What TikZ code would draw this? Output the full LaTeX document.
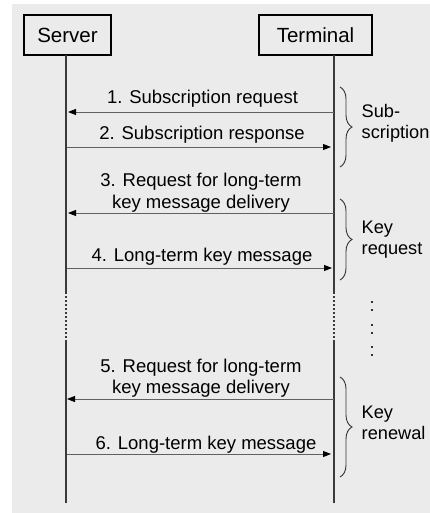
\documentclass[tikz,border=0pt]{standalone}
\usepackage{fontspec}
\setmainfont{Liberation Sans}
\usetikzlibrary{arrows.meta,decorations.pathreplacing}
\definecolor{panel}{HTML}{EBEBEB}
\definecolor{lifec}{HTML}{3A3A3A}
\definecolor{msgc}{HTML}{606060}
\begin{document}
\begin{tikzpicture}[x=1pt,y=-1pt,
  actor/.style={draw=black,line width=1.6pt,fill=panel,inner sep=0pt,font=\fontsize{20.5}{24}\selectfont},
  life/.style={draw=lifec,line width=1.1pt},
  lifedot/.style={draw=lifec,line width=1.1pt,dash pattern=on 2pt off 2pt},
  msg/.style={draw=msgc,line width=0.9pt,-{Triangle[length=8pt,width=6pt,fill=black,color=black]}},
  lbl/.style={font=\fontsize{18.5}{21.5}\selectfont,anchor=base,inner sep=0pt,align=center},
  blbl/.style={font=\fontsize{18.2}{21.5}\selectfont,anchor=base west,inner sep=0pt,align=left},
  brc/.style={draw=black!80,line width=0.9pt,decorate,decoration={brace,amplitude=12pt}},
  vdot/.style={fill=black!80,draw=none}]
\useasboundingbox (0,0) rectangle (430,513);
\fill[panel] (12,4) rectangle (430,513);

% actors
\node[actor,minimum width=87pt,minimum height=40pt] (srv) at (67.5,35) {Server};
\node[actor,minimum width=113pt,minimum height=40pt] (trm) at (315.5,35) {Terminal};

% lifeline coordinates
\coordinate (s0) at (66,55);
\coordinate (s1) at (66,292);
\coordinate (s2) at (66,342);
\coordinate (s3) at (66,503);
\coordinate (t0) at (334,55);
\coordinate (t1) at (334,292);
\coordinate (t2) at (334,342);
\coordinate (t3) at (334,503);
\draw[life] (s0) -- (s1);
\draw[lifedot] (s1) -- (s2);
\draw[life] (s2) -- (s3);
\draw[life] (t0) -- (t1);
\draw[lifedot] (t1) -- (t2);
\draw[life] (t2) -- (t3);

% message end points
\coordinate (m1a) at (334,112); \coordinate (m1b) at (68,112);
\coordinate (m2a) at (67,147);  \coordinate (m2b) at (331,147);
\coordinate (m3a) at (334,213); \coordinate (m3b) at (68,213);
\coordinate (m4a) at (67,268);  \coordinate (m4b) at (332,268);
\coordinate (m5a) at (334,399); \coordinate (m5b) at (67,399);
\coordinate (m6a) at (67,454);  \coordinate (m6b) at (331,454);
\draw[msg] (m1a) -- (m1b);
\draw[msg] (m2a) -- (m2b);
\draw[msg] (m3a) -- (m3b);
\draw[msg] (m4a) -- (m4b);
\draw[msg] (m5a) -- (m5b);
\draw[msg] (m6a) -- (m6b);

% message labels (base = baseline of last line)
\node[lbl] (l1) at (202.5,103.5) {1. Subscription request};
\node[lbl] (l2) at (202,140) {2. Subscription response};
\node[lbl] (l3) at (201,208) {3. Request for long-term\\key message delivery};
\node[lbl] (l4) at (202,261.5) {4. Long-term key message};
\node[lbl] (l5) at (201,393.5) {5. Request for long-term\\key message delivery};
\node[lbl] (l6) at (206,449) {6. Long-term key message};

% braces
\coordinate (b1a) at (340,87);  \coordinate (b1b) at (340,167);
\coordinate (b2a) at (340,199); \coordinate (b2b) at (340,280);
\coordinate (b3a) at (340,377); \coordinate (b3b) at (340,477);
\draw[brc] (b1a) -- (b1b);
\draw[brc] (b2a) -- (b2b);
\draw[brc] (b3a) -- (b3b);

\node[blbl] (g1) at (361.5,139) {Sub-\\scription};
\node[blbl] (g2) at (361.5,254.5) {Key\\request};
\node[blbl] (g3) at (361.5,439.5) {Key\\renewal};

% vertical ellipsis
\foreach \yy in {302,310,325,333,347,355}
  \fill[vdot] (371,\yy-1) rectangle (373,\yy+1);
\end{tikzpicture}
\end{document}
